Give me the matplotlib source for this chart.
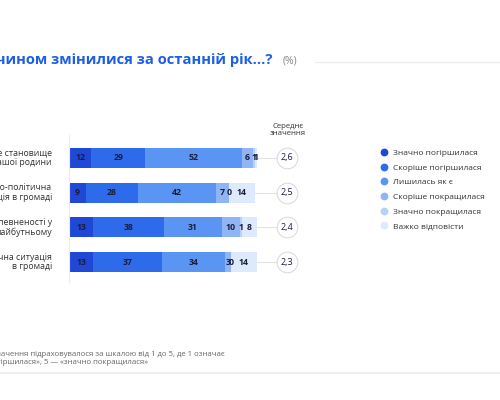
import matplotlib
matplotlib.use("Agg")
import matplotlib.pyplot as plt
from matplotlib.lines import Line2D

plt.rcParams['font.family'] = ['Open Sans', 'DejaVu Sans']

# =========================
# DATA
# =========================
rows = [
    "Матеріальне становище\nвашої родини",
    "Суспільно-політична\nситуація в громаді",
    "Рівень упевненості у\nмайбутньому",
    "Економічна ситуація\nв громаді",
]
answers = [
    "Значно погіршилася",
    "Скоріше погіршилася",
    "Лишилась як є",
    "Скоріше покращилася",
    "Значно покращилася",
    "Важко відповісти",
]
values = [
    [12, 29, 52, 6, 1, 1],
    [9, 28, 42, 7, 0, 14],
    [13, 38, 31, 10, 1, 8],
    [13, 37, 34, 3, 0, 14],
]
means = ["2,6", "2,5", "2,4", "2,3"]

colors = ["#1f48d6", "#2d6beb", "#5b95f4", "#8fb5f4", "#b7d1f9", "#dde9fc"]
dark = "#1b1d3a"

W, H = 500, 400
fig = plt.figure(figsize=(5, 4), dpi=100)

def fx(px):
    return px / W

def fy(py):
    return 1 - py / H

# =========================
# BARS
# =========================
x0, x1 = 69, 300          # axes span in px
y_top, y_bot = 135, 282
px_per = 1.86
row0, step = 158, 34.7

ax = fig.add_axes([fx(x0), fy(y_bot), fx(x1 - x0), (y_bot - y_top) / H])
ax.set_xlim(0, (x1 - x0) / px_per)
ax.set_ylim((y_bot - row0) / step, (y_top - row0) / step)

bar_h = 20 / step
mean_x = (287 - x0) / px_per
for i, vals in enumerate(values):
    left = 0
    for j, v in enumerate(vals):
        ax.barh(i, v, left=left, height=bar_h, color=colors[j], linewidth=0)
        ax.text(left + v / 2, i, str(v), ha="center", va="center",
                fontsize=6.3, fontweight="bold", color=dark)
        left += v
    ax.plot([left, mean_x - 10 / px_per], [i, i], color="#e3e3e3", lw=0.8)
    ax.scatter([mean_x], [i], s=220, facecolor="white", edgecolor="#dcdcdc",
               linewidth=0.8, zorder=3)
    ax.text(mean_x, i, means[i], ha="center", va="center", fontsize=6.5,
            color=dark, zorder=4)

for s in ["top", "right", "bottom"]:
    ax.spines[s].set_visible(False)
ax.spines["left"].set_color("#ececec")
ax.spines["left"].set_linewidth(0.8)
ax.set_xticks([])
ax.set_yticks([])
ax.patch.set_alpha(0)

# row labels (cropped at the left edge like the slide)
for i, r in enumerate(rows):
    fig.text(fx(52), fy(row0 + step * i), r, ha="right", va="center",
             fontsize=6.3, color="#333333", linespacing=1.1)

fig.text(fx(288), fy(130), "Середнє\nзначення", ha="center", va="center",
         fontsize=5.6, color="#333333", linespacing=1.1)

# =========================
# TITLE
# =========================
fig.text(fx(273), fy(60), "Яким чином змінилися за останній рік...?",
         ha="right", va="center", fontsize=10.6, fontweight="bold",
         color="#1c5fe6")
fig.text(fx(283), fy(61), "(%)", ha="left", va="center", fontsize=7.5,
         color="#888888")
fig.add_artist(Line2D([fx(315), 1], [fy(62), fy(62)], color="#ededed", lw=1))

# =========================
# LEGEND
# =========================
handles = [Line2D([0], [0], marker="o", linestyle="", markersize=4.6,
                  markerfacecolor=c, markeredgecolor=c) for c in colors]
fig.legend(handles, answers, loc="upper left",
           bbox_to_anchor=(fx(374), fy(145)), frameon=False, fontsize=6,
           labelspacing=0.82, handletextpad=0.3, handlelength=1.5,
           borderpad=0, labelcolor="#333333")

# =========================
# FOOTNOTE
# =========================
fig.text(fx(225), fy(354),
         "Середнє значення підраховувалося за шкалою від 1 до 5, де 1 означає",
         ha="right", va="center", fontsize=5.6, color="#666666")
fig.text(fx(148), fy(362), "«значно погіршилася», 5 — «значно покращилася»",
         ha="right", va="center", fontsize=5.6, color="#666666")
fig.add_artist(Line2D([0, 1], [fy(372.5), fy(372.5)], color="#eeeeee", lw=1.5))

fig.savefig("out.png", dpi=100)
